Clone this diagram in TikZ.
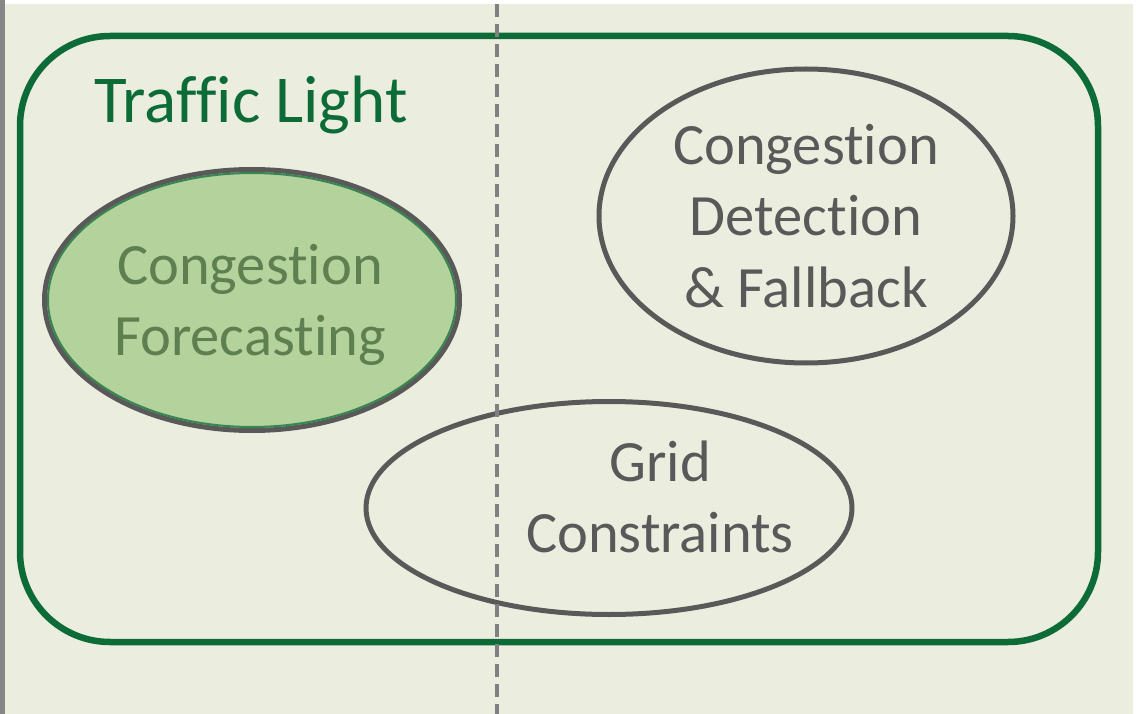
\documentclass[tikz,border=0pt]{standalone}
\usepackage{fontspec}
\setmainfont{Carlito}[Ligatures=NoCommon]
\usetikzlibrary{shapes.geometric}
\definecolor{paper}{HTML}{EBEEDF}
\definecolor{frame}{HTML}{0D6B38}
\definecolor{edge}{HTML}{595959}
\definecolor{leaf}{HTML}{B3D29C}
\definecolor{leaftext}{HTML}{5E7F4F}
\tikzset{
  blob/.style={ellipse,draw=edge,line width=5pt,inner sep=0pt},
  label/.style={text=edge,align=center,font=\fontsize{58.5}{71.4}\selectfont}
}
\begin{document}
\begin{tikzpicture}[x=1pt,y=-1pt]
\useasboundingbox (0,0) rectangle (1136,714);
\fill[white](0,0)rectangle(1136,714);
\fill[paper](5,4)rectangle(1133,714);
\fill[gray!95](0,0)rectangle(5,714);
\draw[frame,line width=6.5pt,rounded corners=90pt](20,36)rectangle(1098,642);
\node[text=frame,anchor=base,font=\fontsize{67}{80}\selectfont] (title) at (251,123) {Traffic Light};
\node[blob,fill=leaf,minimum width=415pt,minimum height=261pt] (forecast) at (252,300) {};
\node[ellipse,draw=frame!75!leaf,line width=2pt,minimum width=408pt,minimum height=254pt] at (forecast) {};
\node[label,text=leaftext] (forecastText) at (250,305) {Congestion\\Forecasting};
\node[blob,minimum width=414pt,minimum height=294pt] (detect) at (806,216) {};
\node[label] (detectText) at (806,216) {Congestion\\Detection\\\& Fallback};
\node[blob,minimum width=486pt,minimum height=213pt] (grid) at (609,508) {};
\node[label] (gridText) at (660,497) {Grid\\Constraints};
\draw[gray,line width=3.5pt,dash pattern=on 13pt off 7pt](497,4)--(497,714);
\end{tikzpicture}
\end{document}
